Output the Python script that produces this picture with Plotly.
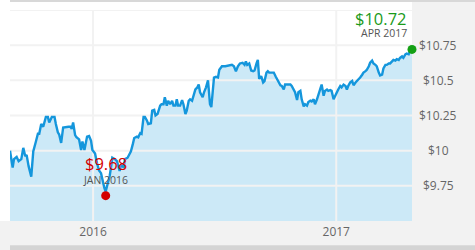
import plotly.graph_objects as go

dates = ["2015-08-29","2015-09-02","2015-09-04","2015-09-08","2015-09-11","2015-09-15","2015-09-18","2015-09-21","2015-09-23","2015-09-26",
"2015-09-30","2015-10-03","2015-10-07","2015-10-10","2015-10-12","2015-10-15","2015-10-18","2015-10-22","2015-10-25","2015-10-27",
"2015-10-31","2015-11-04","2015-11-06","2015-11-09","2015-11-11","2015-11-14","2015-11-17","2015-11-21","2015-11-25","2015-11-28",
"2015-11-30","2015-12-02","2015-12-05","2015-12-07","2015-12-11","2015-12-14","2015-12-16","2015-12-19","2015-12-23","2015-12-26",
"2015-12-29","2015-12-31","2016-01-04","2016-01-07","2016-01-10","2016-01-13","2016-01-16","2016-01-18","2016-01-20","2016-01-23",
"2016-01-26","2016-01-28","2016-01-30","2016-02-03","2016-02-06","2016-02-10","2016-02-12","2016-02-16","2016-02-18","2016-02-22",
"2016-02-25","2016-02-27","2016-03-01","2016-03-03","2016-03-07","2016-03-09","2016-03-12","2016-03-14","2016-03-17","2016-03-19",
"2016-03-22","2016-03-24","2016-03-28","2016-03-30","2016-04-02","2016-04-04","2016-04-07","2016-04-11","2016-04-13","2016-04-16",
"2016-04-18","2016-04-21","2016-04-23","2016-04-26","2016-04-29","2016-05-01","2016-05-04","2016-05-06","2016-05-08","2016-05-11",
"2016-05-14","2016-05-16","2016-05-19","2016-05-21","2016-05-24","2016-05-26","2016-05-29","2016-05-31","2016-06-03","2016-06-06",
"2016-06-08","2016-06-10","2016-06-14","2016-06-16","2016-06-19","2016-06-22","2016-06-24","2016-06-25","2016-06-27","2016-06-29",
"2016-07-01","2016-07-04","2016-07-07","2016-07-09","2016-07-13","2016-07-18","2016-07-23","2016-07-28","2016-07-31","2016-08-03",
"2016-08-06","2016-08-09","2016-08-13","2016-08-16","2016-08-18","2016-08-20","2016-08-23","2016-08-26","2016-08-29","2016-08-31",
"2016-09-03","2016-09-05","2016-09-07","2016-09-10","2016-09-13","2016-09-15","2016-09-18","2016-09-20","2016-09-22","2016-09-26",
"2016-09-29","2016-10-02","2016-10-05","2016-10-09","2016-10-11","2016-10-14","2016-10-16","2016-10-19","2016-10-21","2016-10-24",
"2016-10-26","2016-10-29","2016-10-31","2016-11-03","2016-11-05","2016-11-08","2016-11-10","2016-11-13","2016-11-15","2016-11-18",
"2016-11-20","2016-11-23","2016-11-25","2016-11-28","2016-11-30","2016-12-03","2016-12-05","2016-12-08","2016-12-10","2016-12-13",
"2016-12-15","2016-12-18","2016-12-20","2016-12-23","2016-12-25","2016-12-28","2016-12-30","2017-01-02","2017-01-04","2017-01-07",
"2017-01-09","2017-01-12","2017-01-15","2017-01-17","2017-01-19","2017-01-22","2017-01-25","2017-01-27","2017-01-30","2017-02-01",
"2017-02-04","2017-02-06","2017-02-09","2017-02-11","2017-02-14","2017-02-16","2017-02-19","2017-02-21","2017-02-24","2017-02-26",
"2017-03-01","2017-03-03","2017-03-06","2017-03-08","2017-03-11","2017-03-13","2017-03-16","2017-03-18","2017-03-21","2017-03-23",
"2017-03-26","2017-03-28","2017-03-31","2017-04-02","2017-04-05","2017-04-07","2017-04-10","2017-04-12","2017-04-15","2017-04-17",
"2017-04-20","2017-04-22","2017-04-25"]

prices = [10.00, 9.88, 9.94, 9.955, 9.925, 9.94, 10.02, 9.96, 9.97, 9.89,
9.815, 9.995, 10.065, 10.12, 10.12, 10.19, 10.17, 10.24, 10.24, 10.20,
10.24, 10.24, 10.19, 10.13, 10.115, 10.055, 10.165, 10.17, 10.17, 10.17,
10.155, 10.20, 10.11, 10.095, 10.08, 10.005, 10.065, 10.005, 10.10, 10.105,
10.07, 10.005, 9.98, 9.91, 9.86, 9.84, 9.76, 9.735, 9.71, 9.76,
9.82, 9.88, 9.95, 9.94, 9.925, 9.855, 9.90, 9.88, 9.94, 9.95,
9.98, 9.995, 10.05, 10.09, 10.10, 10.095, 10.125, 10.12, 10.24, 10.24,
10.215, 10.19, 10.195, 10.285, 10.29, 10.25, 10.26, 10.32, 10.33, 10.33,
10.38, 10.32, 10.355, 10.33, 10.355, 10.32, 10.32, 10.365, 10.32, 10.32,
10.36, 10.33, 10.26, 10.285, 10.355, 10.365, 10.355, 10.39, 10.435, 10.45,
10.47, 10.415, 10.38, 10.415, 10.45, 10.50, 10.38, 10.33, 10.31, 10.415,
10.52, 10.525, 10.52, 10.575, 10.60, 10.60, 10.605, 10.61, 10.60, 10.565,
10.60, 10.62, 10.625, 10.61, 10.635, 10.61, 10.62, 10.57, 10.565, 10.57,
10.62, 10.645, 10.51, 10.53, 10.485, 10.495, 10.555, 10.565, 10.555, 10.555,
10.555, 10.525, 10.495, 10.465, 10.46, 10.435, 10.47, 10.47, 10.47, 10.47,
10.46, 10.435, 10.415, 10.36, 10.415, 10.425, 10.365, 10.315, 10.33, 10.32,
10.345, 10.355, 10.35, 10.365, 10.33, 10.365, 10.40, 10.445, 10.47, 10.39,
10.425, 10.435, 10.425, 10.43, 10.425, 10.365, 10.39, 10.415, 10.435, 10.46,
10.45, 10.47, 10.46, 10.435, 10.46, 10.485, 10.495, 10.465, 10.485, 10.495,
10.505, 10.52, 10.54, 10.555, 10.565, 10.575, 10.60, 10.625, 10.64, 10.62,
10.61, 10.60, 10.555, 10.535, 10.54, 10.585, 10.61, 10.61, 10.62, 10.62,
10.635, 10.645, 10.64, 10.65, 10.645, 10.66, 10.67, 10.66, 10.685, 10.69,
10.685, 10.71, 10.72]

low_date = "2016-01-20"
low_price = 9.68
low_label = "JAN 2016"
last_date = "2017-04-25"
last_price = 10.72
last_label = "APR 2017"

y_ticks = [9.75, 10.0, 10.25, 10.5, 10.75]
y_ticktext = ["$9.75", "$10", "$10.25", "$10.5", "$10.75"]
y_grid = [9.75, 10.0, 10.25, 10.5, 10.75, 11.0]
x_ticks = ["2016-01-01", "2017-01-01"]
x_ticktext = ["2016", "2017"]
x_range = ["2015-08-29", "2017-04-25"]
y_range = [9.5, 11.0]

FONT = "Open Sans"
LINE = "#1496dc"
FILL = "#cce9f7"
GRID = "#f2f2f2"
PANEL = "#f2f2f2"

fig = go.Figure()

# area fill
fig.add_trace(go.Scatter(x=dates, y=prices, mode="lines", line=dict(width=0, color=FILL),
                         fill="tozeroy", fillcolor=FILL, hoverinfo="skip"))

# gridlines drawn over the fill
gx, gy = [], []
for v in y_grid:
    gx += [x_range[0], x_range[1], None]
    gy += [v, v, None]
for t in x_ticks:
    gx += [t, t, None]
    gy += [y_range[0], y_range[1], None]
fig.add_trace(go.Scatter(x=gx, y=gy, mode="lines", line=dict(color=GRID, width=2),
                         hoverinfo="skip"))

# price line
fig.add_trace(go.Scatter(x=dates, y=prices, mode="lines", line=dict(color=LINE, width=2.4),
                         hoverinfo="skip"))

# markers
fig.add_trace(go.Scatter(x=[low_date], y=[low_price], mode="markers",
                         marker=dict(color="#d40000", size=9), cliponaxis=False))
fig.add_trace(go.Scatter(x=[last_date], y=[last_price], mode="markers",
                         marker=dict(color="#14a014", size=9), cliponaxis=False))

annotations = []
for v, t in zip(y_ticks, y_ticktext):
    annotations.append(dict(x=1.0647, xref="paper", y=v, yref="y", text=t, showarrow=False,
                            xanchor="center", yanchor="middle",
                            font=dict(family=FONT, size=12, color="#666666")))
annotations += [
    dict(x=last_date, y=last_price, xref="x", yref="y", text="$%.2f" % last_price, showarrow=False,
         xanchor="right", yanchor="middle", xshift=-3, yshift=31,
         font=dict(family=FONT, size=16.5, color="#1a9a1a")),
    dict(x=last_date, y=last_price, xref="x", yref="y", text=last_label, showarrow=False,
         xanchor="right", yanchor="middle", xshift=-3, yshift=16,
         font=dict(family=FONT, size=10.5, color="#555555")),
    dict(x=low_date, y=low_price, xref="x", yref="y", text="$%.2f" % low_price, showarrow=False,
         xanchor="center", yanchor="middle", yshift=32,
         font=dict(family=FONT, size=16.5, color="#d40000")),
    dict(x=low_date, y=low_price, xref="x", yref="y", text=low_label, showarrow=False,
         xanchor="center", yanchor="middle", yshift=16,
         font=dict(family=FONT, size=10.5, color="#555555")),
]

W, H = 475, 250
L, R, T, B = 10, 63, 10, 27
pw, ph = W - L - R, H - T - B
def px(p):
    return (p - L) / pw
def py(p):
    return (H - B - p) / ph

shapes = [
    dict(type="rect", xref="paper", yref="paper", x0=1, x1=px(W + 5), y0=py(H + 5), y1=py(2),
         fillcolor=PANEL, line=dict(width=0), layer="below"),
    dict(type="rect", xref="paper", yref="paper", x0=px(-5), x1=px(W + 5), y0=py(H + 5), y1=0,
         fillcolor=PANEL, line=dict(width=0), layer="below"),
    dict(type="rect", xref="paper", yref="paper", x0=0, x1=px(W + 5), y0=py(2), y1=py(-3),
         fillcolor="#d8d8d8", line=dict(width=0), layer="below"),
    dict(type="rect", xref="paper", yref="paper", x0=0, x1=px(W + 5), y0=py(H + 5), y1=py(247.5),
         fillcolor="#d4d4d4", line=dict(width=0), layer="below"),
]

fig.update_layout(
    width=W, height=H, margin=dict(l=L, r=R, t=T, b=B),
    paper_bgcolor="white", plot_bgcolor="white",
    showlegend=False, hovermode=False,
    annotations=annotations, shapes=shapes,
    font=dict(family=FONT),
    xaxis=dict(range=x_range, type="date", tickvals=x_ticks, ticktext=x_ticktext,
               showgrid=False, zeroline=False, showline=False, ticks="",
               tickfont=dict(family=FONT, size=12, color="#666666"), ticklabelstandoff=2),
    yaxis=dict(range=y_range, showticklabels=False, showgrid=False, zeroline=False, showline=False),
)

fig.write_html("out.html")
